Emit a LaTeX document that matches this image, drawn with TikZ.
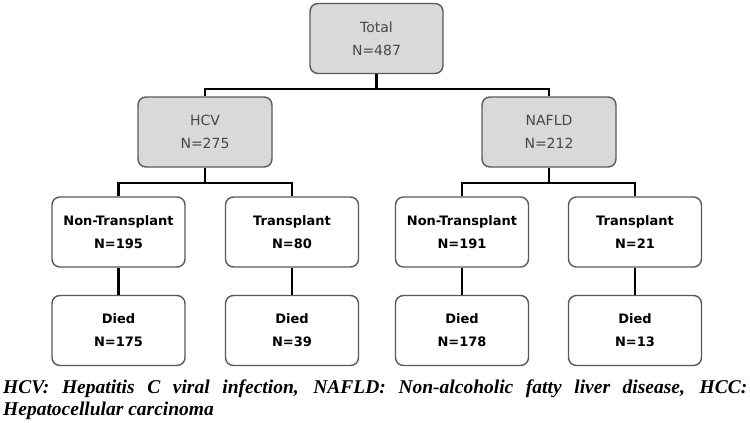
\documentclass[tikz,border=0pt]{standalone}
\usepackage{fontspec}
\setmainfont{DejaVu Sans}
\newfontfamily\capfont{Liberation Serif}
\begin{document}
\begin{tikzpicture}[x=1pt,y=-1pt,
  box/.style={draw=black!65, line width=1.4pt, rounded corners=8pt, minimum width=133pt, minimum height=70pt, inner sep=0pt, align=center, font=\fontsize{13}{23}\selectfont, fill=white},
  topbox/.style={box, fill=black!15, text=black!72, font=\fontsize{14}{23}\selectfont},
  leaf/.style={box, font=\fontsize{13}{23}\selectfont\bfseries},
  conn/.style={line width=2.6pt, black},
  captext/.style={anchor=base west, inner sep=0pt, font=\capfont\bfseries\itshape\fontsize{19.5}{22}\selectfont}]
\useasboundingbox (0,0) rectangle (750,423);
\node[topbox] (total) at (376.5,38.5) {Total\\N=487};
\node[topbox, minimum width=134pt] (hcv) at (205,132) {HCV\\N=275};
\node[topbox, minimum width=134pt] (nafld) at (549,132) {NAFLD\\N=212};
\node[leaf] (nt1) at (118.5,232) {Non-Transplant\\N=195};
\node[leaf] (t1) at (292,232) {Transplant\\N=80};
\node[leaf] (nt2) at (462,232) {Non-Transplant\\N=191};
\node[leaf] (t2) at (635,232) {Transplant\\N=21};
\node[leaf] (d1) at (118.5,330.5) {Died\\N=175};
\node[leaf] (d2) at (292,330.5) {Died\\N=39};
\node[leaf] (d3) at (462,330.5) {Died\\N=178};
\node[leaf] (d4) at (635,330.5) {Died\\N=13};
\coordinate (j1) at (0,89);
\coordinate (j2) at (0,183);
\draw[conn] (total.south) -- (total.south |- j1);
\draw[conn] (hcv.north) -- (hcv.north |- j1) -- (nafld.north |- j1) -- (nafld.north);
\draw[conn] (hcv.south) -- (hcv.south |- j2);
\draw[conn] (nt1.north) -- (nt1.north |- j2) -- (t1.north |- j2) -- (t1.north);
\draw[conn] (nafld.south) -- (nafld.south |- j2);
\draw[conn] (nt2.north) -- (nt2.north |- j2) -- (t2.north |- j2) -- (t2.north);
\draw[conn] (nt1) -- (d1);
\draw[conn] (t1) -- (d2);
\draw[conn] (nt2) -- (d3);
\draw[conn] (t2) -- (d4);
\node[captext] (cap1) at (3,393) {\makebox[744pt][s]{HCV: Hepatitis C viral infection, NAFLD: Non-alcoholic fatty liver disease, HCC:}};
\node[captext] (cap2) at (3,415) {Hepatocellular carcinoma};
\end{tikzpicture}
\end{document}
